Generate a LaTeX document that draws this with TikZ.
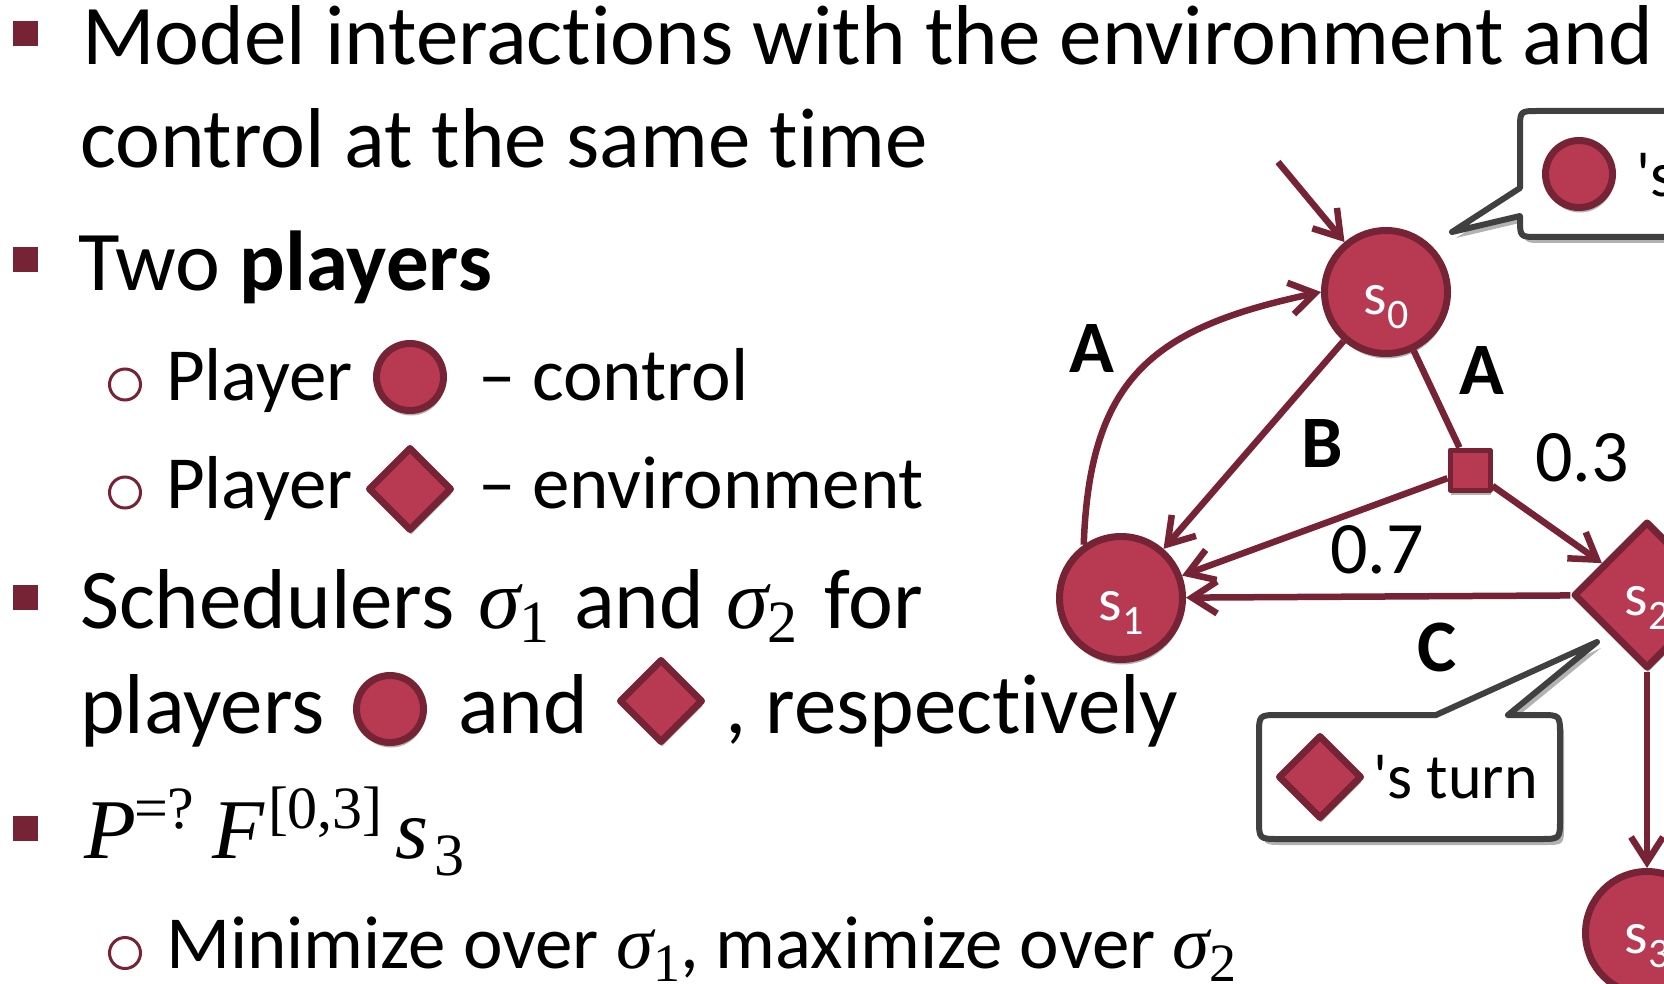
\documentclass[tikz,border=0pt]{standalone}
\usepackage{fontspec}
\setmainfont{Carlito}[Ligatures={TeX,NoCommon}]
\newfontfamily\mfnt{Liberation Serif}
\usetikzlibrary{arrows.meta,shapes.geometric,shadows}
\definecolor{dkred}{HTML}{772336}
\definecolor{mdred}{HTML}{B83A52}
\definecolor{cgray}{HTML}{404040}
\newcommand\gsig{{\mfnt\itshape σ}}
\newcommand\dsub[1]{\raisebox{-14pt}{\fontsize{60}{60}\selectfont\mfnt #1}}
\newcommand\ssub[1]{\raisebox{-13pt}{\fontsize{54}{54}\selectfont\mfnt #1}}
\newcommand\stlbl[1]{s\raisebox{-14pt}{\fontsize{42}{42}\selectfont #1}}
\begin{document}
\begin{tikzpicture}[x=1pt,y=-1pt,
  every node/.style={inner sep=0pt, outer sep=0pt},
  big/.style={anchor=base west, font=\fontsize{85}{100}\selectfont},
  mbig/.style={anchor=base west, font=\fontsize{85}{100}\selectfont\mfnt\itshape},
  msup/.style={anchor=base west, font=\fontsize{60}{60}\selectfont\mfnt},
  small/.style={anchor=base west, font=\fontsize{75}{88}\selectfont},
  sqb/.style={fill=dkred, minimum size=25pt},
  ob/.style={circle, draw=dkred, line width=3pt, minimum size=31pt},
  nshadow/.style={drop shadow={shadow xshift=1pt, shadow yshift=-5pt, opacity=0.3, fill=black}},
  pc/.style={circle, draw=dkred, fill=mdred, line width=7pt, minimum size=67pt, nshadow},
  pd/.style={diamond, draw=dkred, fill=mdred, line width=7pt, line join=round, minimum width=81pt, minimum height=81pt, nshadow},
  state/.style={circle, draw=dkred, fill=mdred, line width=7pt, minimum size=123pt, outer sep=3.5pt, nshadow},
  statediam/.style={diamond, draw=dkred, fill=mdred, line width=7pt, line join=round, minimum width=147pt, minimum height=147pt, outer sep=3.5pt, nshadow},
  prob/.style={rectangle, draw=dkred, fill=mdred, line width=5pt, line join=round, minimum size=40pt, outer sep=2.5pt, nshadow},
  stlabel/.style={anchor=base, text=white, font=\fontsize{60}{60}\selectfont},
  edge/.style={draw=dkred, line width=6.5pt, -{Straight Barb[length=25pt,width=32pt]}},
  plain/.style={draw=dkred, line width=6.5pt},
  elbl/.style={font=\fontsize{74}{74}\selectfont},
  elblb/.style={font=\fontsize{74}{74}\selectfont\bfseries},
  calltxt/.style={anchor=base west, font=\fontsize{64}{64}\selectfont},
  callout/.style={draw=cgray, fill=white, line width=6pt, line join=round,
    drop shadow={shadow xshift=4pt, shadow yshift=-6pt, opacity=0.3, fill=black}}
]
\useasboundingbox (0,0) rectangle (1664,984);
\clip (0,0) rectangle (1664,984);
\fill[white] (0,0) rectangle (1664,984);

% ---- text column ----
\node[sqb] (b1) at (25.5,33.5) {};
\node[big] (t1) at (82,65) {Model interactions with the environment and};
\node[big] (t2) at (80,168) {control at the same time};
\node[sqb] (b2) at (25.5,259.5) {};
\node[big] (t3) at (78,290) {Two \textbf{players}};
\node[ob] (o1) at (125,384.5) {};
\node[small] (t4) at (166,400) {Player};
\node[pc] (c1) at (410,377) {};
\node[small] (t4b) at (478,400) {– control};
\node[ob] (o2) at (125,492.5) {};
\node[small] (t5) at (166,508) {Player};
\node[pd] (d1) at (410,489) {};
\node[small] (t5b) at (478,508) {– environment};
\node[sqb] (b3) at (25.5,597.5) {};
\node[big] (t6) at (80,628) {Schedulers};
\node[big] (t6a) at (478,628) {\gsig\dsub{1}};
\node[big] (t6b) at (574,628) {and};
\node[big] (t6c) at (726,628) {\gsig\dsub{2}};
\node[big] (t6d) at (824,628) {for};
\node[big] (t7) at (80,733) {players};
\node[pc] (c2) at (390,709) {};
\node[big] (t7b) at (458,733) {and};
\node[pd] (d2) at (661,701) {};
\node[big] (t7c) at (725,733) {, respectively};
\node[sqb] (b4) at (25.5,828.5) {};
\node[mbig] (t8p) at (84,858) {P};
\node[msup] (t8q) at (134,828) {=?};
\node[mbig] (t8f) at (212,858) {F};
\node[msup] (t8i) at (268,828) {[0,3]};
\node[mbig] (t8s) at (395,858) {s};
\node[msup] (t8t) at (434,875) {3};
\node[ob] (o3) at (125,953) {};
\node[small] (t9) at (166,968) {Minimize over \gsig\ssub{1}, maximize over \gsig\ssub{2}};

% ---- game graph ----
\node[state] (s0) at (1386,292) {};
\node[state] (s1) at (1121,598) {};
\node[statediam] (s2) at (1647,595) {};
\node[state] (s3) at (1647,933) {};
\node[prob] (p) at (1470,470) {};
\coordinate (init) at (1278,162);

\node[stlabel] (l0) at ([yshift=-22pt]s0.center) {\stlbl{0}};
\node[stlabel] (l1) at ([yshift=-22pt]s1.center) {\stlbl{1}};
\node[stlabel] (l2) at ([yshift=-20pt]s2.center) {\stlbl{2}};
\node[stlabel] (l3) at ([yshift=-20pt]s3.center) {\stlbl{3}};

\draw[edge] (init) -- (s0);
\draw[edge] (s1.125) to[out=88,in=192,looseness=1.25] (s0.west);
\draw[edge] (s0) -- (s1);
\draw[plain] (s0) -- (p);
\draw[edge] (p) -- (s1);
\draw[edge] (p) -- (s2);
\draw[edge] (s2) -- (s1);
\draw[edge] (s2) -- (s3);

\node[elblb] (la1) at (1092,349) {A};
\node[elblb] (lb) at (1322,444) {B};
\node[elblb] (la2) at (1482,371) {A};
\node[elbl] (lp3) at (1582,458) {0.3};
\node[elbl] (lp7) at (1377,550) {0.7};
\node[elblb] (lc) at (1437,647) {C};

% ---- callouts ----
\draw[callout] (1800,111) -- (1538,111) .. controls (1520,111) .. (1520,129) -- (1520,188) -- (1452,232) -- (1520,216) -- (1520,219) .. controls (1520,237) .. (1538,237) -- (1800,237) -- cycle;
\node[pc] (c3) at (1579,174) {};
\node[calltxt] (ct1) at (1636,197) {\textquotesingle s turn};

\draw[callout] (1279,715) -- (1436,715) -- (1597,642) -- (1508,715) -- (1540,715) .. controls (1560,715) .. (1560,735) -- (1560,819) .. controls (1560,839) .. (1540,839) -- (1279,839) .. controls (1259,839) .. (1259,819) -- (1259,735) .. controls (1259,715) .. (1279,715) -- cycle;
\node[pd] (d3) at (1320,777) {};
\node[calltxt] (ct2) at (1373,798) {\textquotesingle s turn};
\end{tikzpicture}
\end{document}
